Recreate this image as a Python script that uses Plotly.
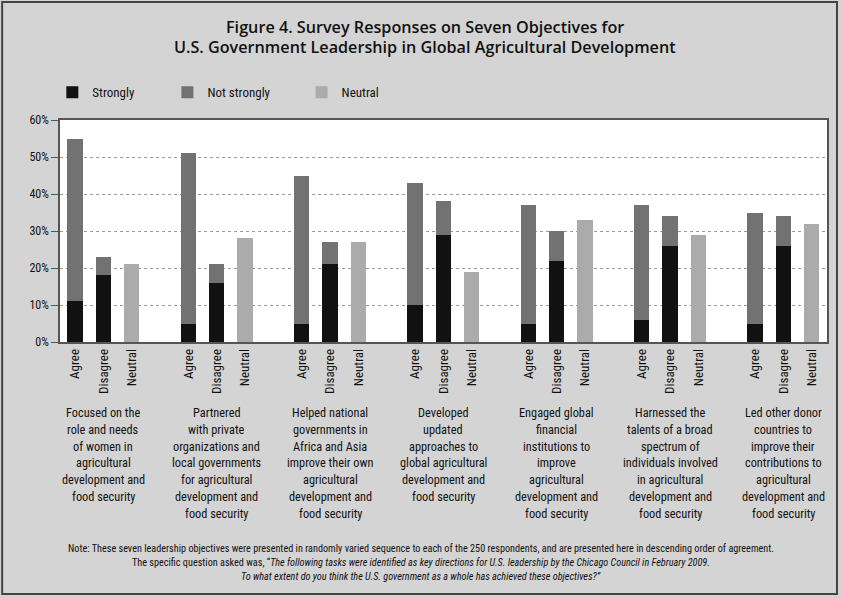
import plotly.graph_objects as go

# ---- data ----
objectives = [
    ["Focused on the", "role and needs", "of women in", "agricultural", "development and", "food security"],
    ["Partnered", "with private", "organizations and", "local governments", "for agricultural", "development and", "food security"],
    ["Helped national", "governments in", "Africa and Asia", "improve their own", "agricultural", "development and", "food security"],
    ["Developed", "updated", "approaches to", "global agricultural", "development and", "food security"],
    ["Engaged global", "financial", "institutions to", "improve", "agricultural", "development and", "food security"],
    ["Harnessed the", "talents of a broad", "spectrum of", "individuals involved", "in agricultural", "development and", "food security"],
    ["Led other donor", "countries to", "improve their", "contributions to", "agricultural", "development and", "food security"],
]
responses = ["Agree", "Disagree", "Neutral"]
strongly_agree = [11, 5, 5, 10, 5, 6, 5]
strongly_disagree = [18, 16, 21, 29, 22, 26, 26]
not_strongly_agree = [44, 46, 40, 33, 32, 31, 30]
not_strongly_disagree = [5, 5, 6, 9, 8, 8, 8]
neutral = [21, 28, 27, 19, 33, 29, 32]
y_ticks = [0, 10, 20, 30, 40, 50, 60]
y_tick_labels = ["0%", "10%", "20%", "30%", "40%", "50%", "60%"]

title_lines = ["Figure 4. Survey Responses on Seven Objectives for",
               "U.S. Government Leadership in Global Agricultural Development"]
note_lines = [
    "Note: These seven leadership objectives were presented in randomly varied sequence to each of the 250 respondents, "
    "and are presented here in descending order of agreement.",
    "The specific question asked was, \u201c<i>The following tasks were identified as key directions for U.S. leadership "
    "by the Chicago Council in February 2009.</i>",
    "<i>To what extent do you think the U.S. government as a whole has achieved these objectives?\u201d</i>",
]

NARROW = "Roboto Condensed, Liberation Sans Narrow, DejaVu Sans Condensed, sans-serif"
TITLE_FONT = "Open Sans, Noto Sans, sans-serif"

# plot-area geometry in pixels (used only to place free text in paper units)
PLOT_LEFT, PLOT_W = 60, 769
PLOT_TOP, PLOT_BOTTOM = 120, 342
PLOT_H = PLOT_BOTTOM - PLOT_TOP


def py(ypx):
    return (PLOT_BOTTOM - ypx) / PLOT_H


def px(xpx):
    return (xpx - PLOT_LEFT) / PLOT_W


n = len(objectives)
agree_x = [4 * i for i in range(n)]
disagree_x = [4 * i + 1 for i in range(n)]
neutral_x = [4 * i + 2 for i in range(n)]

tickvals, ticktext = [], []
for i in range(n):
    for j, r in enumerate(responses):
        tickvals.append(4 * i + j)
        ticktext.append(r)

BW = 0.55
fig = go.Figure()
fig.add_trace(go.Bar(
    x=agree_x + disagree_x, y=strongly_agree + strongly_disagree,
    name="Strongly", marker=dict(color="#111111", line=dict(width=0)),
    width=BW, legend="legend"))
fig.add_trace(go.Bar(
    x=agree_x + disagree_x, y=not_strongly_agree + not_strongly_disagree,
    name="Not strongly", marker=dict(color="#727272", line=dict(width=0)),
    width=BW, legend="legend2"))
fig.add_trace(go.Bar(
    x=neutral_x, y=neutral,
    name="Neutral", marker=dict(color="#ababab", line=dict(width=0)),
    width=BW, legend="legend3"))

annotations = []
# category descriptions
for i, lines in enumerate(objectives):
    for k, line in enumerate(lines):
        annotations.append(dict(
            x=4 * i + 1, y=py(413 + 16.8 * k), xref="x", yref="paper",
            text=line, showarrow=False, xanchor="center", yanchor="middle",
            font=dict(family=NARROW, size=12.3, color="#111")))
# note lines
for k, line in enumerate(note_lines):
    annotations.append(dict(
        x=px(422), y=py(548 + 14 * k), xref="paper", yref="paper", text=line, showarrow=False,
        xanchor="center", yanchor="middle",
        font=dict(family=NARROW, size=10.2, color="#111")))
# title lines
for k, line in enumerate(title_lines):
    annotations.append(dict(
        x=px(426), y=py(27 + 20 * k), xref="paper", yref="paper", text=line, showarrow=False,
        xanchor="center", yanchor="middle",
        font=dict(family=TITLE_FONT, size=16.2, color="#111", weight=600)))

legend_common = dict(orientation="h", yanchor="middle", y=1.125, xanchor="left",
                     bgcolor="rgba(0,0,0,0)", font=dict(family=NARROW, size=13, color="#111"))

fig.update_layout(
    width=841, height=597,
    margin=dict(l=60, r=12, t=120, b=255),
    paper_bgcolor="#d4d4d4",
    plot_bgcolor="#ffffff",
    barmode="stack",
    bargap=0,
    showlegend=True,
    legend=dict(x=-0.0100, **legend_common),
    legend2=dict(x=0.1400, **legend_common),
    legend3=dict(x=0.3150, **legend_common),
    xaxis=dict(
        range=[-0.53, 26.54], tickmode="array", tickvals=tickvals, ticktext=ticktext,
        tickangle=-90, tickfont=dict(family=NARROW, size=13, color="#111"),
        showgrid=False, zeroline=False, showline=True, linecolor="#555", linewidth=1.5,
        mirror=True, ticks=""),
    yaxis=dict(
        range=[0, 60], tickmode="array", tickvals=y_ticks, ticktext=y_tick_labels,
        tickfont=dict(family=NARROW, size=12, color="#111"),
        ticks="outside", ticklen=7, tickcolor="#555",
        showgrid=True, gridcolor="#9a9a9a", griddash="dot", gridwidth=1,
        zeroline=False, showline=True, linecolor="#555", linewidth=1.5, mirror=True),
    annotations=annotations,
    shapes=[dict(type="rect", xref="paper", yref="paper",
                 x0=px(2), x1=px(839),
                 y0=py(594), y1=py(2),
                 line=dict(color="#444", width=2), fillcolor="rgba(0,0,0,0)", layer="below")],
)

fig.write_html("out.html")
